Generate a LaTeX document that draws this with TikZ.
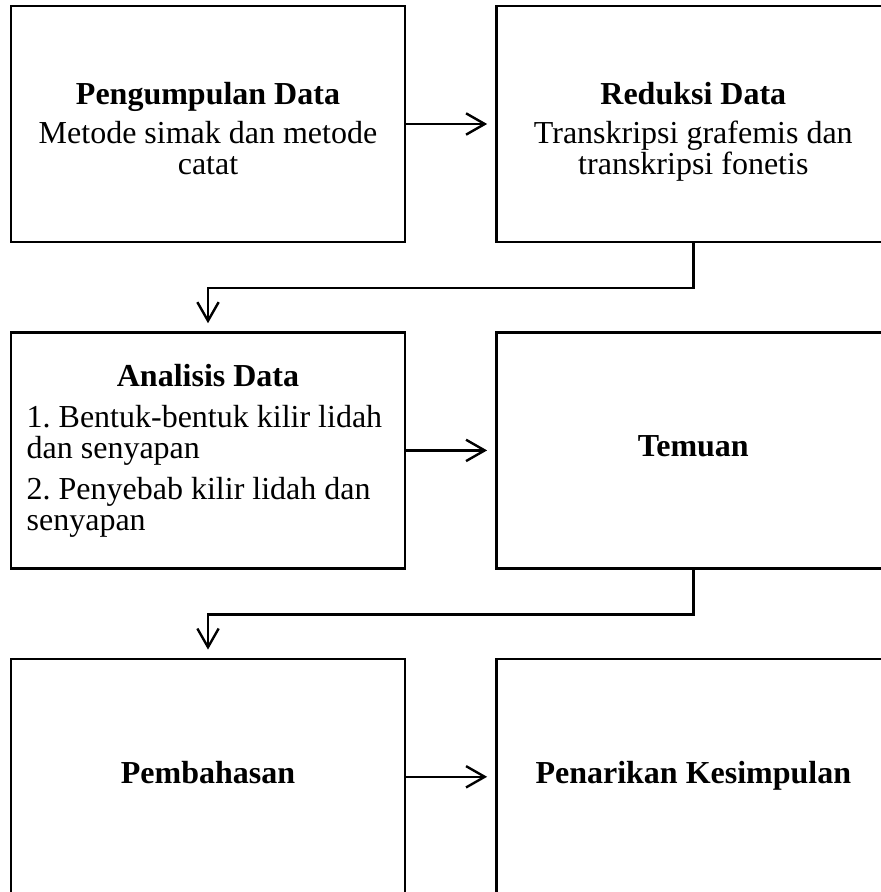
\documentclass[tikz,border=0pt]{standalone}
\usepackage{fontspec}
\setmainfont{Liberation Serif}
\usetikzlibrary{arrows.meta,positioning}

\begin{document}
\begin{tikzpicture}[
    x=0.375pt, y=0.375pt,
    node distance=33pt and 33.35pt,
    stagebox/.style={
        rectangle,
        draw=black,
        line width=0.9pt,
        minimum width=147.75pt,
        minimum height=88.5pt,
        text width=136pt,
        inner xsep=5.875pt,
        align=flush center,
        font=\fontsize{12}{11.5}\selectfont\frenchspacing
    },
    arrow/.style={-{Straight Barb[length=7pt,width=8pt]}, line width=0.9pt, shorten >=3pt}
]
    \useasboundingbox (0,0) rectangle (880,-892);

    \node[stagebox] (pengumpulan) at (208,-124)
        {\rule{0pt}{15pt}\textbf{Pengumpulan Data}\\[3pt]Metode simak dan metode\\catat\strut};
    \node[stagebox, right=of pengumpulan] (reduksi)
        {\rule{0pt}{15pt}\textbf{Reduksi Data}\\[3pt]Transkripsi grafemis dan\\transkripsi fonetis\strut};
    \node[stagebox, below=of pengumpulan, align=flush left] (analisis)
        {{\centering\textbf{Analisis Data}\par}\vspace{4pt}
         1. Bentuk-bentuk kilir lidah\\dan senyapan\par\vspace{4pt}
         2. Penyebab kilir lidah dan\\senyapan\par\vspace{6.8pt}};
    \node[stagebox, right=of analisis] (temuan) {\strut\textbf{Temuan}};
    \node[stagebox, below=of analisis] (pembahasan) {\strut\textbf{Pembahasan}};
    \node[stagebox, right=of pembahasan] (penarikan) {\strut\textbf{Penarikan Kesimpulan}};

    \draw[arrow] (pengumpulan) -- (reduksi);
    \draw[arrow] (reduksi.south) -- ++(0,-45) -| (analisis.north);
    \draw[arrow] (analisis) -- (temuan);
    \draw[arrow] (temuan.south) -- ++(0,-45) -| (pembahasan.north);
    \draw[arrow] (pembahasan) -- (penarikan);
\end{tikzpicture}
\end{document}
